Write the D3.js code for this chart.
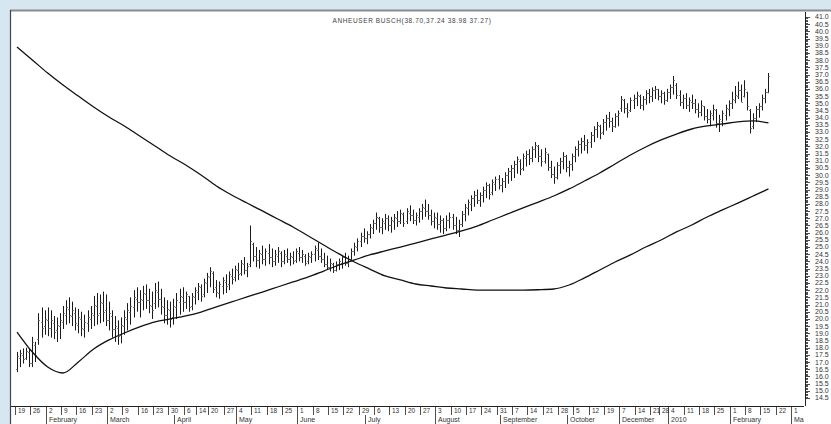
<!DOCTYPE html>
<html><head><meta charset="utf-8">
<script src="https://cdn.jsdelivr.net/npm/d3@7"></script>
<style>
html,body{margin:0;padding:0;background:#d7e7f1;}
svg{display:block}
text{font-family:"Liberation Sans",Arial,sans-serif;}
</style></head><body>
<svg id="c" width="831" height="424"></svg>
<script>
const title = "ANHEUSER BUSCH(38.70,37.24 38.98 37.27)";
const axisStart = "2009-01-12", axisEnd = "2010-03-03", firstBarDate = "2009-01-19";
const holidays = ["2009-04-10","2009-04-13","2009-05-01","2009-12-24","2009-12-25","2009-12-31","2010-01-01"];
const gapDates = ["2009-10-24","2009-12-06"];
const monthNames = ["January","February","March","April","May","June","July","August","September","October","November","December"];
const yMin = 14.5, yMax = 41.0, yLabelStep = 0.5;

const highs = [17.70,17.85,17.95,18.00,17.95,18.75,18.40,20.40,20.80,20.60,20.80,20.60,20.20,20.10,20.40,20.90,21.30,21.50,21.20,20.80,
20.70,20.50,20.30,20.60,20.90,21.60,21.80,21.70,21.90,21.70,21.20,20.60,20.20,19.90,20.10,20.60,21.10,21.50,22.00,22.20,
22.00,22.30,22.40,22.10,21.90,22.50,22.60,22.10,21.50,21.30,21.20,21.40,21.80,22.10,22.20,21.90,21.60,21.80,22.20,22.50,
22.40,22.80,23.20,23.60,23.30,22.70,22.60,22.90,23.10,23.30,23.50,23.70,23.90,24.10,24.30,23.90,26.50,25.30,25.00,24.80,
25.10,24.90,25.20,24.90,24.80,25.00,24.70,24.80,24.90,24.60,24.70,24.90,25.00,24.80,24.50,24.60,24.70,25.10,25.30,24.90,
24.60,24.40,24.20,23.90,24.00,24.20,24.40,24.60,24.40,24.90,25.30,25.60,26.00,26.30,26.10,26.60,26.90,27.40,27.10,27.00,
27.30,27.20,27.10,27.30,27.50,27.60,27.40,27.70,27.90,27.60,27.40,27.70,28.00,28.30,28.00,27.60,27.40,27.40,27.20,27.00,
27.20,27.40,27.30,27.10,26.90,27.50,28.00,28.30,28.60,28.90,29.00,28.80,29.20,29.50,29.40,29.70,29.90,30.00,29.80,30.20,
30.50,30.70,31.00,31.30,31.10,31.50,31.70,31.80,32.00,32.30,32.10,31.80,31.90,31.50,31.00,30.60,30.90,31.20,31.60,31.40,
31.00,31.50,32.00,32.40,32.60,32.80,32.50,33.00,33.40,33.70,33.50,33.90,34.20,34.40,34.00,34.30,34.50,35.50,35.30,35.00,
35.40,35.60,35.80,35.60,35.50,35.90,36.00,36.10,36.20,36.00,35.90,35.80,36.00,36.30,36.90,36.40,35.90,35.60,35.70,35.40,
35.60,35.30,35.00,35.20,34.80,34.60,34.50,34.90,34.60,34.20,34.50,34.90,35.20,35.80,36.20,36.50,36.30,36.60,35.80,34.60,
34.30,34.80,35.00,35.60,36.00,37.10];
const lows = [16.30,16.65,16.90,17.15,16.65,16.65,17.00,18.20,18.70,18.90,18.80,18.70,18.60,18.40,18.60,19.30,19.60,19.70,19.50,19.20,
19.00,18.80,18.70,19.10,19.30,19.50,19.60,19.70,19.80,19.50,19.20,18.70,18.40,18.20,18.30,18.90,19.20,19.60,20.10,20.50,
20.10,20.60,20.70,20.40,20.00,20.70,20.80,20.30,19.70,19.60,19.40,19.60,20.00,20.30,20.50,20.70,20.50,20.60,21.00,21.30,
21.20,21.50,21.80,22.20,21.80,21.50,21.40,21.70,21.80,22.00,22.40,22.60,22.70,23.00,23.10,22.90,23.60,24.00,23.60,23.50,
23.80,23.70,23.80,23.60,23.70,23.90,23.60,23.80,23.90,23.70,23.80,23.90,24.00,23.90,23.70,23.80,23.90,24.00,24.10,23.90,
23.60,23.40,23.30,23.20,23.30,23.40,23.50,23.70,23.60,24.00,24.40,24.70,25.00,25.30,25.20,25.60,25.90,26.20,26.00,25.90,
26.20,26.10,26.00,26.20,26.40,26.60,26.40,26.60,26.80,26.60,26.50,26.70,26.90,27.10,26.90,26.50,26.30,26.20,26.00,25.90,
26.10,26.30,26.20,25.90,25.70,26.40,26.80,27.20,27.50,27.80,28.00,27.80,28.10,28.40,28.30,28.60,28.90,29.00,28.80,29.10,
29.40,29.60,29.80,30.10,30.00,30.30,30.60,30.70,30.90,31.20,30.90,30.60,30.80,30.30,29.80,29.40,29.70,30.10,30.40,30.20,
29.90,30.30,30.90,31.30,31.50,31.70,31.50,31.90,32.30,32.60,32.50,32.80,33.10,33.30,33.00,33.30,33.40,34.40,34.30,34.00,
34.40,34.60,34.80,34.60,34.50,34.90,35.00,35.10,35.30,35.20,35.00,34.90,35.10,35.30,35.60,35.30,34.80,34.60,34.60,34.40,
34.60,34.30,34.00,34.10,33.80,33.60,33.40,33.80,33.30,33.00,33.40,33.80,34.10,34.60,35.00,35.30,35.10,35.40,34.50,32.90,
33.20,33.70,34.00,34.50,35.00,35.70];
const opens = [16.50,17.30,17.50,17.30,17.70,16.90,18.20,18.60,19.80,19.50,19.90,19.40,19.70,19.20,19.50,19.80,20.30,20.70,20.20,20.40,
19.60,20.00,19.30,19.70,20.00,20.30,20.90,20.40,21.10,20.60,19.90,20.20,19.30,19.40,18.90,19.50,20.00,20.50,20.80,21.40,
21.20,21.30,21.70,21.30,20.90,21.10,21.90,21.40,20.80,20.30,20.60,20.10,20.80,21.20,21.50,21.20,21.60,20.90,21.50,21.90,
22.20,21.70,22.50,22.90,23.20,22.20,21.80,22.30,22.60,22.40,23.00,22.90,23.40,23.20,23.80,23.40,23.80,25.20,24.40,24.10,
24.50,24.20,24.60,24.30,24.00,24.40,24.60,24.00,24.40,24.20,24.30,24.10,24.60,24.30,24.40,24.00,24.30,24.50,24.80,24.40,
24.20,23.80,23.60,23.80,23.40,23.80,23.90,24.30,23.90,24.20,24.70,25.00,25.40,25.80,25.60,25.90,26.30,26.70,27.00,26.40,
26.70,27.00,26.50,26.80,27.00,26.80,27.30,26.80,27.40,27.20,26.90,27.10,27.50,27.70,27.50,27.20,26.80,27.00,26.60,26.90,
26.30,26.90,27.10,26.50,26.20,26.60,27.30,27.70,28.00,28.40,28.60,28.30,28.60,29.00,29.30,28.80,29.40,29.70,29.30,29.60,
30.00,30.30,30.50,30.80,31.00,30.50,31.20,31.50,31.20,31.80,32.00,31.30,31.00,31.50,30.60,30.10,29.90,30.70,31.00,31.30,
30.60,30.80,31.30,31.80,32.20,32.40,32.10,32.30,32.80,33.20,33.40,33.00,33.70,34.00,33.80,33.40,34.10,34.70,35.20,34.70,
34.50,35.20,35.40,35.50,34.90,35.30,35.70,35.50,35.90,36.00,35.50,35.70,35.20,35.80,36.10,36.30,35.60,35.10,35.40,34.90,
35.10,35.00,34.60,34.40,34.80,34.10,33.90,34.20,34.50,33.60,33.80,34.20,34.60,35.00,35.20,35.50,35.90,35.50,35.80,34.50,
33.40,34.00,34.60,34.80,35.40,35.80];
const closes = [17.40,17.60,17.20,17.80,16.90,18.40,17.50,19.90,19.40,20.00,19.40,19.90,19.10,19.60,19.90,20.40,20.80,20.30,20.60,19.70,
20.10,19.40,19.80,20.10,20.40,21.00,20.30,21.20,20.50,19.90,20.40,19.30,19.50,18.80,19.60,20.10,20.60,20.90,21.50,21.20,
21.40,21.80,21.30,21.00,20.60,22.00,21.40,20.90,20.30,20.70,20.00,20.90,21.30,21.60,21.20,21.70,20.80,21.60,22.00,22.30,
21.60,22.60,23.00,23.30,22.10,21.90,22.40,22.70,22.30,23.10,22.80,23.50,23.10,23.90,23.40,23.70,25.40,24.40,24.10,24.60,
24.20,24.70,24.30,24.00,24.50,24.70,24.00,24.50,24.20,24.40,24.00,24.70,24.30,24.50,23.90,24.40,24.50,24.90,24.40,24.20,
23.80,23.60,23.90,23.40,23.80,24.00,24.30,23.90,24.20,24.70,25.10,25.40,25.80,25.60,25.90,26.40,26.70,27.10,26.40,26.80,
27.00,26.50,26.90,27.10,26.80,27.40,26.70,27.50,27.20,26.90,27.20,27.50,27.80,27.50,27.20,26.80,27.10,26.60,26.90,26.30,
26.90,27.10,26.50,26.20,26.60,27.30,27.80,28.10,28.40,28.60,28.30,28.60,29.00,29.30,28.70,29.50,29.70,29.30,29.60,30.00,
30.30,30.50,30.80,31.10,30.40,31.30,31.50,31.20,31.80,32.10,31.30,31.00,31.60,30.60,30.10,29.90,30.70,31.00,31.30,30.60,
30.80,31.30,31.80,32.20,32.40,32.10,32.30,32.80,33.20,33.50,32.90,33.70,34.00,33.80,33.40,34.10,34.30,35.30,34.70,34.40,
35.20,35.40,35.60,34.90,35.30,35.70,35.50,35.90,36.00,35.50,35.70,35.20,35.80,36.10,36.60,35.60,35.10,35.40,34.90,35.20,
35.00,34.60,34.40,34.90,34.10,33.90,34.30,34.60,33.60,33.90,34.30,34.70,35.00,35.30,35.60,35.90,35.10,36.00,34.80,33.30,
34.00,34.60,34.80,35.40,35.80,36.90];
// moving averages read every 5th bar (bar 0, 5, 10, ... 245)
const maLong = [38.91,38.01,37.10,36.27,35.50,34.74,34.04,33.42,32.72,32.03,31.33,30.71,30.01,29.25,28.62,28.06,27.51,26.95,26.39,25.77,
25.14,24.52,23.96,23.47,22.99,22.71,22.43,22.29,22.15,22.08,22.01,22.01,22.01,22.01,22.03,22.08,22.36,22.85,23.40,23.96,
24.45,25.00,25.49,26.05,26.53,27.09,27.58,28.06,28.55,29.04];
const maShort = [19.09,17.70,16.66,16.24,17.01,17.91,18.54,19.02,19.44,19.79,20.00,20.21,20.48,20.83,21.18,21.53,21.87,22.22,22.57,22.92,
23.33,23.75,24.10,24.45,24.73,25.00,25.28,25.56,25.84,26.12,26.46,26.88,27.30,27.72,28.13,28.55,29.04,29.59,30.15,30.78,
31.40,31.96,32.45,32.86,33.21,33.42,33.56,33.70,33.77,33.63];
const maStep = 5;

const W = 831, H = 424;
const svg = d3.select("#c");
svg.append("rect").attr("width", W).attr("height", H).attr("fill", "#d7e7f1");
svg.append("rect").attr("x", 10).attr("y", 10).attr("width", W - 10).attr("height", H - 10).attr("fill", "#ffffff");
svg.append("line").attr("x1", 10).attr("x2", W).attr("y1", 10.5).attr("y2", 10.5).attr("stroke", "#8c8c8c").attr("stroke-width", 2);
svg.append("line").attr("x1", 10.5).attr("x2", 10.5).attr("y1", 10).attr("y2", H).attr("stroke", "#444").attr("stroke-width", 1.2);

const parse = d3.utcParse("%Y-%m-%d"), fmt = d3.utcFormat("%Y-%m-%d");
const hol = new Set(holidays);
const g0 = parse(gapDates[0]), g1 = parse(gapDates[1]);
const days = d3.utcDay.range(parse(axisStart), d3.utcDay.offset(parse(axisEnd), 1))
  .filter(d => d.getUTCDay() !== 0 && d.getUTCDay() !== 6 && !hol.has(fmt(d)) && !(d >= g0 && d <= g1));
const idx = new Map(days.map((d, i) => [fmt(d), i]));
const i0 = idx.get(firstBarDate);
const x = d3.scaleLinear().domain([i0, idx.get("2010-03-01")]).range([17, 793]);
const y = d3.scaleLinear().domain([yMin, yMax]).range([398, 17]);

const axY = 406;
const defs = svg.append("defs");
defs.append("clipPath").attr("id", "plot").append("rect").attr("x", 11).attr("y", 11).attr("width", 793).attr("height", axY - 11);
defs.append("clipPath").attr("id", "xa").append("rect").attr("x", 11).attr("y", axY - 1).attr("width", 793).attr("height", H - axY + 1);

// title
svg.append("text").attr("x", 412).attr("y", 23).attr("text-anchor", "middle").attr("font-size", 6.5)
  .attr("letter-spacing", 0.6).attr("fill", "#444").text(title);

const plot = svg.append("g").attr("clip-path", "url(#plot)");
// OHLC bars
const bars = plot.append("g").attr("stroke", "#1a1a1a").attr("stroke-width", 1);
highs.forEach((h, k) => {
  const cx = Math.round(x(i0 + k)) + 0.5;
  bars.append("line").attr("x1", cx).attr("x2", cx).attr("y1", y(h)).attr("y2", y(lows[k]));
  bars.append("line").attr("x1", cx - 1.5).attr("x2", cx).attr("y1", Math.round(y(opens[k])) + 0.5).attr("y2", Math.round(y(opens[k])) + 0.5).attr("stroke", "#777");
  bars.append("line").attr("x1", cx).attr("x2", cx + 1.5).attr("y1", Math.round(y(closes[k])) + 0.5).attr("y2", Math.round(y(closes[k])) + 0.5).attr("stroke", "#777");
});
// moving averages
const maLine = d3.line().x((v, j) => x(i0 + Math.min(j * maStep, highs.length - 1))).y(v => y(v)).curve(d3.curveMonotoneX);
[maLong, maShort].forEach(a => plot.append("path").attr("d", maLine(a)).attr("fill", "none").attr("stroke", "#111").attr("stroke-width", 1.3));

// y axis
const ya = svg.append("g");
ya.append("line").attr("x1", 805.5).attr("x2", 805.5).attr("y1", 12).attr("y2", axY).attr("stroke", "#222");
const minor = d3.range(Math.round(yMin * 10), Math.round(yMax * 10) + 1).map(v => v / 10);
minor.forEach(v => {
  const major = Math.round(v * 10) % 5 === 0;
  const yy = Math.round(y(v)) + 0.5;
  ya.append("line").attr("x1", 805.5).attr("x2", major ? 810 : 808).attr("y1", yy).attr("y2", yy).attr("stroke", "#222").attr("stroke-width", 0.8);
});
d3.range(yMin, yMax + 0.001, yLabelStep).forEach(v => {
  ya.append("text").attr("x", 815).attr("y", y(v)).attr("dy", "0.35em").attr("font-size", 7).attr("fill", "#333").text(d3.format(".1f")(v));
});

// x axis
const xa = svg.append("g").attr("clip-path", "url(#xa)");
xa.append("line").attr("x1", 11).attr("x2", 805).attr("y1", axY + 0.5).attr("y2", axY + 0.5).attr("stroke", "#222");
days.forEach((d, i) => {
  const prev = days[i - 1];
  const tx = Math.round(x(i)) - 1.5;
  if (!prev || +d3.utcMonday.floor(prev) !== +d3.utcMonday.floor(d)) {
    xa.append("line").attr("x1", tx).attr("x2", tx).attr("y1", axY).attr("y2", axY + 9).attr("stroke", "#222").attr("stroke-width", 0.8);
    xa.append("text").attr("x", tx + 2.5).attr("y", axY + 7).attr("font-size", 6.5).attr("fill", "#333").text(d.getUTCDate());
  }
  if (prev && prev.getUTCMonth() !== d.getUTCMonth()) {
    xa.append("line").attr("x1", tx).attr("x2", tx).attr("y1", axY + 9).attr("y2", H).attr("stroke", "#222").attr("stroke-width", 0.8);
    const lab = d.getUTCMonth() === 0 ? String(d.getUTCFullYear()) : monthNames[d.getUTCMonth()];
    xa.append("text").attr("x", tx + 2.5).attr("y", axY + 15.5).attr("font-size", 7).attr("fill", "#333").text(lab);
  }
});
</script></body></html>
